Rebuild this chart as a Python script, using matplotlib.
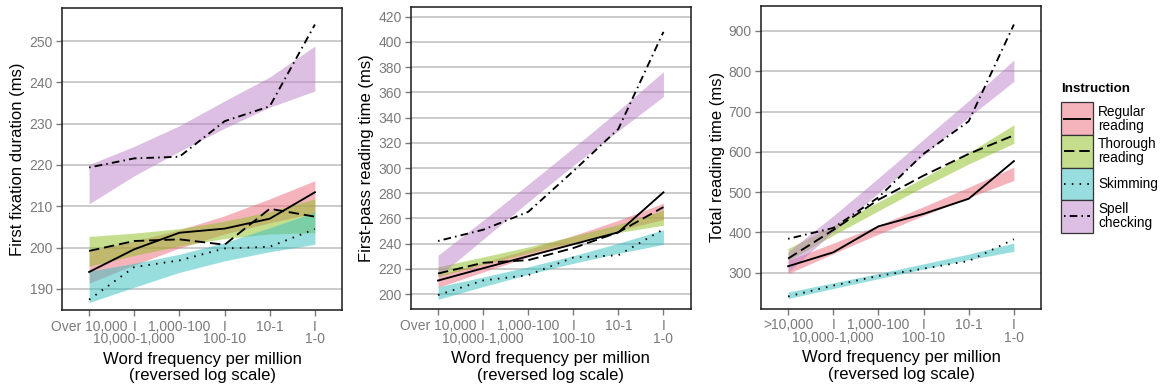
import numpy as np
import matplotlib
matplotlib.use("Agg")
import matplotlib.pyplot as plt
from matplotlib.patches import Rectangle
from matplotlib.lines import Line2D

plt.rcParams['font.family'] = ['Liberation Sans', 'DejaVu Sans']
plt.rcParams['lines.scale_dashes'] = False

# DATA ----------------------------------------------------------------
freq_pos = [0, 1, 2, 3, 4, 5]
freq_labels_top = ["Over 10,000", "I", "1,000-100", "I", "10-1", "I"]
freq_labels_top_total = [">10,000", "I", "1,000-100", "I", "10-1", "I"]
freq_labels_bottom = ["", "10,000-1,000", "", "100-10", "", "1-0"]
instructions = ["Regular\nreading", "Thorough\nreading", "Skimming", "Spell\nchecking"]

# first fixation duration (regular, thorough, skimming, spell checking)
ffd_mean = [[194.1, 199.6, 203.6, 204.6, 207.0, 213.4],
            [199.2, 201.6, 202.0, 200.7, 209.4, 207.5],
            [187.4, 195.3, 196.9, 199.8, 200.2, 204.5],
            [219.4, 221.6, 222.0, 230.6, 234.2, 254.0]]
ffd_lo = [[191.4, 195.8, 199.9, 203.3, 206.0, 208.4],
          [195.5, 198.1, 200.4, 202.2, 203.3, 203.6],
          [186.7, 190.4, 194.0, 196.8, 199.0, 200.8],
          [210.6, 217.4, 223.3, 228.9, 234.0, 237.9]]
ffd_hi = [[199.2, 201.6, 204.3, 207.7, 211.8, 216.2],
          [202.7, 203.5, 204.6, 206.4, 208.7, 211.8],
          [194.3, 196.2, 198.4, 201.2, 204.8, 208.6],
          [220.1, 224.5, 229.5, 235.5, 241.3, 248.8]]

# first-pass reading time
fpr_mean = [[210.7, 220.5, 230.0, 239.5, 249.0, 280.7],
            [216.3, 224.8, 226.9, 236.5, 249.0, 269.0],
            [199.2, 210.8, 215.0, 229.0, 230.8, 251.4],
            [242.1, 251.0, 265.2, 297.5, 331.0, 408.0]]
fpr_lo = [[205.3, 217.5, 229.4, 240.4, 250.5, 259.1],
          [214.0, 223.4, 232.4, 241.0, 248.8, 254.6],
          [195.8, 205.9, 215.6, 224.4, 232.3, 239.4],
          [213.7, 243.5, 273.0, 302.0, 329.5, 356.7]]
fpr_hi = [[215.1, 225.1, 235.4, 246.4, 258.5, 272.1],
          [221.6, 229.4, 237.4, 246.0, 255.2, 266.6],
          [205.8, 213.5, 221.6, 230.4, 240.3, 251.0],
          [230.8, 258.5, 287.0, 316.0, 345.5, 376.4]]

# total reading time
trt_mean = [[316.0, 350.5, 415.0, 446.0, 483.6, 577.0],
            [335.0, 406.0, 481.0, 541.0, 595.0, 641.0],
            [241.0, 268.0, 292.0, 310.0, 329.0, 383.0],
            [384.0, 411.0, 487.0, 595.0, 676.0, 916.0]]
trt_lo = [[297.5, 347.3, 395.6, 441.9, 486.2, 529.0],
          [330.0, 393.0, 453.6, 513.4, 570.0, 621.0],
          [235.6, 260.7, 285.1, 308.9, 332.3, 352.9],
          [301.0, 402.0, 498.0, 592.0, 686.0, 775.0]]
trt_hi = [[330.5, 373.3, 417.6, 463.9, 512.2, 562.0],
          [360.0, 417.0, 475.6, 535.4, 598.0, 667.0],
          [252.0, 274.7, 298.1, 321.9, 346.3, 373.5],
          [352.0, 441.0, 535.0, 631.0, 727.0, 828.0]]

# STYLE ---------------------------------------------------------------
fill_colors = ['#EC6A7A', '#8DBF1F', '#35BFBF', '#BA80C6']
fill_alpha = 0.5
line_styles = ['-', (0, (7.5, 3.5)), (0, (1.1, 4.5)), (0, (1.1, 3.0, 5.5, 3.0))]
grey_txt = '#7a7a7a'

W, H = 1160, 387
fig = plt.figure(figsize=(W / 100, H / 100), dpi=100)


def px_axes(l, t, r, b):
    return fig.add_axes([l / W, 1 - b / H, (r - l) / W, (b - t) / H])


panels = [
    (px_axes(62, 8, 342, 310), ffd_mean, ffd_lo, ffd_hi, "First fixation duration (ms)",
     np.arange(190, 251, 10), (184.9, 258.0), freq_labels_top),
    (px_axes(411, 7.3, 690.5, 309.3), fpr_mean, fpr_lo, fpr_hi, "First-pass reading time (ms)",
     np.arange(200, 421, 20), (187.9, 427.5), freq_labels_top),
    (px_axes(761, 6, 1041, 308.7), trt_mean, trt_lo, trt_hi, "Total reading time (ms)",
     np.arange(300, 901, 100), (210.6, 962.0), freq_labels_top_total),
]

for ax, means, lows, highs, ylab, yt, ylim, xlabs in panels:
    for i in range(4):
        ax.fill_between(freq_pos, lows[i], highs[i], color=fill_colors[i],
                        alpha=fill_alpha, lw=0)
    for i in range(4):
        ax.plot(freq_pos, means[i], color='black', lw=1.35, linestyle=line_styles[i],
                dash_capstyle='butt')
    ax.set_xlim(-0.6, 5.6)
    ax.set_ylim(*ylim)
    ax.set_yticks(yt)
    ax.set_xticks(freq_pos)
    ax.set_xticklabels(xlabs)
    ax.xaxis.remove_overlapping_locs = False
    ax.set_xticks(freq_pos, minor=True)
    ax.set_xticklabels(freq_labels_bottom, minor=True)
    ax.tick_params(axis='both', colors=grey_txt, labelsize=10, length=4, width=1.0)
    ax.tick_params(axis='x', which='major', pad=3)
    ax.tick_params(axis='x', which='minor', length=0, pad=16, labelsize=10,
                   labelcolor=grey_txt)
    ax.tick_params(axis='y', pad=2.5)
    ax.grid(axis='y', color='#bdbdbd', lw=1.1)
    ax.set_axisbelow(True)
    for s in ax.spines.values():
        s.set_color('#1a1a1a')
        s.set_linewidth(1.1)
    ax.set_ylabel(ylab, fontsize=12, labelpad=3)
    ax.set_xlabel("Word frequency per million\n(reversed log scale)", fontsize=12,
                  labelpad=4, linespacing=1.12)

# legend
lax = fig.add_axes([0, 0, 1, 1])
lax.set_xlim(0, W)
lax.set_ylim(H, 0)
lax.axis('off')
lax.text(1061.5, 88.5, "Instruction", fontsize=9.6, fontweight='bold', va='center', ha='left')
key_top, key_h = 102.3, 32.6
for i, lab in enumerate(instructions):
    y0 = key_top + i * key_h
    lax.add_patch(Rectangle((1061, y0), 32, key_h, facecolor='white', edgecolor='none'))
    lax.add_patch(Rectangle((1061, y0), 32, key_h, facecolor=fill_colors[i], alpha=fill_alpha,
                            edgecolor='none'))
    lax.add_patch(Rectangle((1061, y0), 32, key_h, facecolor='none', edgecolor='#333333', lw=0.9))
    lax.add_line(Line2D([1064, 1090], [y0 + key_h / 2] * 2, color='black', lw=1.35,
                        linestyle=line_styles[i], dash_capstyle='butt'))
    lax.text(1098, y0 + key_h / 2, lab, fontsize=9.8, va='center', ha='left', linespacing=1.0)

fig.savefig("out.png", dpi=100)
